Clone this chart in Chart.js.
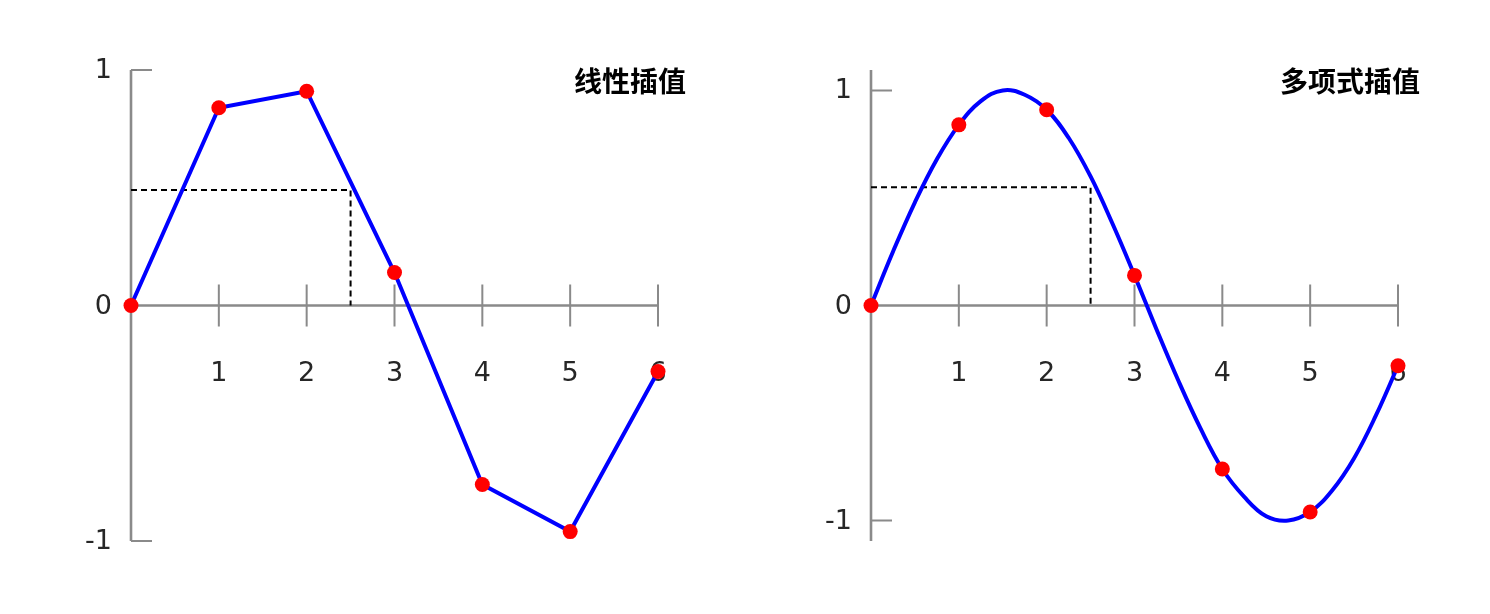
<!DOCTYPE html>
<html>
<head>
<meta charset="utf-8">
<script src="https://cdn.jsdelivr.net/npm/chart.js@4/dist/chart.umd.min.js"></script>
<style>
  html, body { margin: 0; padding: 0; background: #fff; }
  #wrap { position: relative; width: 1490px; height: 614px; }
  .pane { position: absolute; top: 0; width: 745px; height: 614px; }
</style>
</head>
<body>
<div id="wrap">
  <div class="pane" style="left:0"><canvas id="linearChart"></canvas></div>
  <div class="pane" style="left:745px"><canvas id="polyChart"></canvas></div>
</div>
<script>
// sample points (x = 0..6)
const sampleX = [0, 1, 2, 3, 4, 5, 6];
const sampleY = [0, 0.84, 0.91, 0.14, -0.76, -0.96, -0.28];

// polynomial curve, every 0.25
const polyX = [0, 0.25, 0.5, 0.75, 1, 1.25, 1.5, 1.75, 2, 2.25, 2.5, 2.75, 3,
               3.25, 3.5, 3.75, 4, 4.25, 4.5, 4.75, 5, 5.25, 5.5, 5.75, 6];
const polyY = [0, 0.25, 0.48, 0.68, 0.84, 0.95, 1.0, 0.98, 0.91, 0.78, 0.6, 0.38, 0.14,
               -0.11, -0.35, -0.57, -0.76, -0.89, -0.98, -1.0, -0.96, -0.86, -0.71, -0.51, -0.28];

// dashed guide at x = 2.5
const guideX = 2.5;
const linearGuideY = 0.49;
const polyGuideY = 0.55;

const xTicks = [1, 2, 3, 4, 5, 6];
const yTicks = [-1, 1];
const yLabels = [-1, 0, 1];

const titles = ["线性插值", "多项式插值"];

function pts(xs, ys) {
  return xs.map((x, i) => ({ x: x, y: ys[i] }));
}

// axes through the origin, drawn from the chart's own scales
const originAxes = {
  id: "originAxes",
  beforeDatasetsDraw(chart) {
    const ctx = chart.ctx;
    const xs = chart.scales.x, ys = chart.scales.y;
    const a = chart.chartArea;
    const x0 = xs.getPixelForValue(0), y0 = ys.getPixelForValue(0);
    ctx.save();
    ctx.strokeStyle = "#8a8a8a";
    ctx.lineWidth = 2.6;
    ctx.beginPath();
    ctx.moveTo(x0, a.top); ctx.lineTo(x0, a.bottom);
    ctx.moveTo(xs.getPixelForValue(0), y0); ctx.lineTo(xs.getPixelForValue(6), y0);
    ctx.stroke();
    ctx.lineWidth = 2;
    ctx.beginPath();
    xTicks.forEach(t => {
      const px = xs.getPixelForValue(t);
      ctx.moveTo(px, y0 - 21); ctx.lineTo(px, y0 + 21);
    });
    yTicks.forEach(t => {
      const py = ys.getPixelForValue(t);
      ctx.moveTo(x0, py); ctx.lineTo(x0 + 21, py);
    });
    ctx.stroke();

    ctx.fillStyle = "#262626";
    ctx.font = "27px 'DejaVu Sans'";
    ctx.textAlign = "center";
    ctx.textBaseline = "middle";
    xTicks.forEach(t => ctx.fillText(String(t), xs.getPixelForValue(t), y0 + 68));
    ctx.textAlign = "right";
    yLabels.forEach(t => ctx.fillText(String(t), x0 - 19, ys.getPixelForValue(t) + 1));

    const title = chart.options.plugins.originAxes.title;
    ctx.fillStyle = "#000";
    ctx.font = "bold 28px 'Noto Sans CJK SC'";
    ctx.textAlign = "right";
    ctx.fillText(title, chart.options.plugins.originAxes.titleRight, 81);
    ctx.restore();
  }
};

function makeChart(id, curve, guideY, yMax, pad, title, titleRight) {
  return new Chart(document.getElementById(id), {
    type: "scatter",
    data: {
      datasets: [
        {
          data: pts(sampleX, sampleY),
          pointRadius: 7.5,
          pointBackgroundColor: "#ff0000",
          pointBorderWidth: 0,
          showLine: false
        },
        {
          data: curve,
          showLine: true,
          borderColor: "#0000ff",
          borderWidth: 4,
          pointRadius: 0,
          tension: curve.length > sampleX.length ? 0.4 : 0
        },
        {
          data: pts([0, guideX, guideX], [guideY, guideY, 0]),
          showLine: true,
          borderColor: "#000",
          borderWidth: 2,
          borderDash: [6, 4],
          pointRadius: 0,
          tension: 0
        }
      ]
    },
    options: {
      responsive: true,
      maintainAspectRatio: false,
      animation: false,
      clip: false,
      layout: { padding: pad },
      scales: {
        x: { type: "linear", min: 0, max: 6, display: false },
        y: { type: "linear", min: -yMax, max: yMax, display: false }
      },
      plugins: {
        legend: { display: false },
        tooltip: { enabled: false },
        originAxes: { title: title, titleRight: titleRight }
      }
    },
    plugins: [originAxes]
  });
}

makeChart("linearChart", pts(sampleX, sampleY), linearGuideY, 1,
  { left: 131, right: 87, top: 70, bottom: 73 }, titles[0], 686);
makeChart("polyChart", pts(polyX, polyY), polyGuideY, 1.095,
  { left: 126, right: 92, top: 70, bottom: 73 }, titles[1], 675);
</script>
</body>
</html>
